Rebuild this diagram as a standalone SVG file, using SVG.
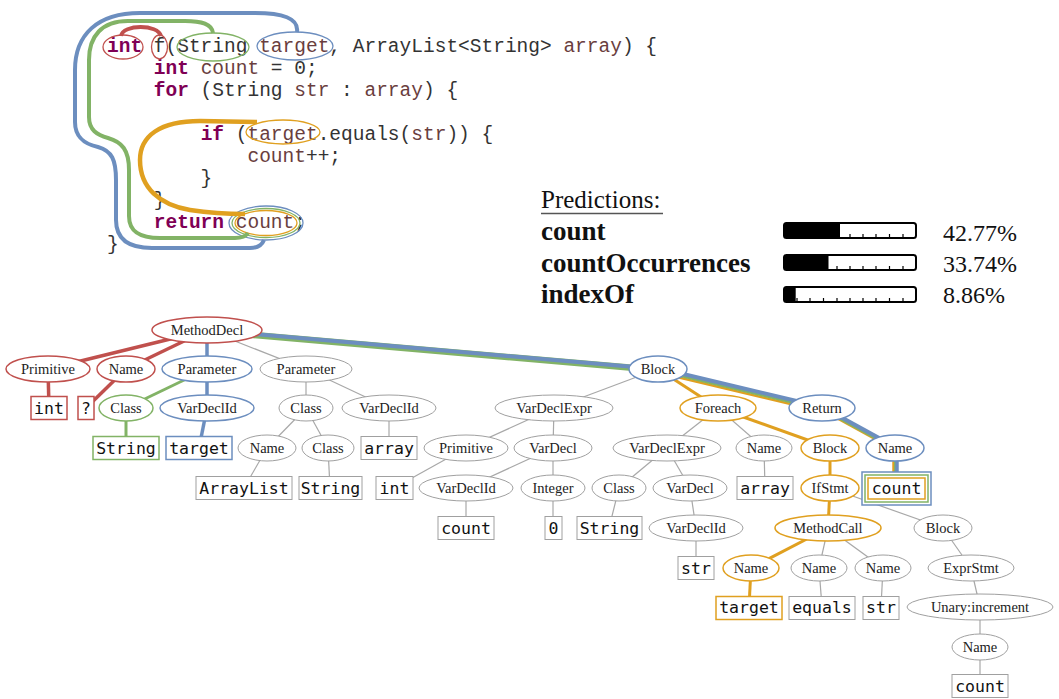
<svg xmlns="http://www.w3.org/2000/svg" width="1059" height="699" viewBox="0 0 1059 699">
<style>
.code{font-family:"Liberation Mono",monospace;font-size:19.5px;fill:#333;white-space:pre}
.kw{font-weight:bold;fill:#7f0055}
.id{fill:#6a3e3e}
.tok{fill:none;stroke-width:1.3}
.n ellipse{fill:#fff;stroke:#a0a0a0;stroke-width:1}
.n text{font-family:"Liberation Serif",serif;font-size:14.5px;fill:#222;text-anchor:middle}
.b rect{fill:#fff;stroke:#a0a0a0;stroke-width:1}
.b text{font-family:"DejaVu Sans Mono",monospace;font-size:16.5px;text-anchor:middle;fill:#111}
.r ellipse,.r rect{stroke:#c0504d;stroke-width:1.5}
.bl ellipse,.bl rect{stroke:#6c8ebf;stroke-width:1.5}
.g ellipse,.g rect{stroke:#82b366;stroke-width:1.5}
.o ellipse,.o rect{stroke:#e0a020;stroke-width:1.5}
.e{stroke:#a8a8a8;stroke-width:1.2;fill:none}
.er{stroke:#c0504d;stroke-width:3.5;fill:none}
.eb{stroke:#6c8ebf;stroke-width:3.5;fill:none}
.eg{stroke:#82b366;stroke-width:3;fill:none}
.eo{stroke:#e0a020;stroke-width:3;fill:none}
.pred{font-family:"Liberation Serif",serif;fill:#111}
</style>

<!-- code -->
<g id="code">
<text class="code" x="107" y="52" xml:space="preserve"><tspan class="kw">int</tspan> f(String <tspan class="id">target</tspan>, ArrayList&lt;String&gt; <tspan class="id">array</tspan>) {</text>
<text class="code" x="107" y="74" xml:space="preserve">    <tspan class="kw">int</tspan> <tspan class="id">count</tspan> = 0;</text>
<text class="code" x="107" y="96" xml:space="preserve">    <tspan class="kw">for</tspan> (String <tspan class="id">str</tspan> : <tspan class="id">array</tspan>) {</text>
<text class="code" x="107" y="140" xml:space="preserve">        <tspan class="kw">if</tspan> (<tspan class="id">target</tspan>.equals(<tspan class="id">str</tspan>)) {</text>
<text class="code" x="107" y="162" xml:space="preserve">            <tspan class="id">count</tspan>++;</text>
<text class="code" x="107" y="184" xml:space="preserve">        }</text>
<text class="code" x="107" y="206" xml:space="preserve">    }</text>
<text class="code" x="107" y="228" xml:space="preserve">    <tspan class="kw">return</tspan> <tspan class="id">count</tspan>;</text>
<text class="code" x="107" y="250" xml:space="preserve">}</text>
</g>

<g id="code-highlights">
<ellipse class="tok" cx="123" cy="47" rx="20" ry="12" stroke="#c0504d"/>
<ellipse class="tok" cx="159.5" cy="47" rx="8" ry="12" stroke="#c0504d"/>
<ellipse class="tok" cx="213" cy="47" rx="36" ry="14" stroke="#82b366"/>
<ellipse class="tok" cx="295" cy="46" rx="38" ry="14" stroke="#6c8ebf"/>
<ellipse class="tok" cx="283" cy="132" rx="37" ry="12" stroke="#e0a020"/>
<ellipse class="tok" cx="266" cy="223" rx="37" ry="17" stroke="#6c8ebf"/>
<ellipse class="tok" cx="266" cy="223" rx="34" ry="14.5" stroke="#82b366"/>
<ellipse class="tok" cx="266" cy="223" rx="31" ry="12.5" stroke="#e0a020"/>
<path d="M 121 36 C 123 24 158 24 161 36" fill="none" stroke="#c0504d" stroke-width="4"/>
<path d="M 297 32 C 299 18 282 13 255 13 L 140 13 C 97 13 75 35 75 70 L 75 122 C 75 138 85 144 98 147 C 112 151 116 160 116 180 L 116 220 C 116 240 130 248 152 248 L 250 248 C 258 248 262 245 264 240" fill="none" stroke="#6c8ebf" stroke-width="4"/>
<path d="M 213 33 C 212 24 202 21 185 21 L 128 21 C 102 21 89 36 89 60 L 89 117 C 89 130 97 135 108 138 C 122 142 129 150 129 170 L 129 216 C 129 232 140 238 160 238 L 235 238 C 242 238 246 236 248 233" fill="none" stroke="#82b366" stroke-width="4"/>
<path d="M 257 122 L 200 121 C 160 121 140 136 140 160 C 140 188 160 205 190 210 C 210 213 228 214 245 214" fill="none" stroke="#e0a020" stroke-width="4.5"/>
</g>

<!-- predictions -->
<g id="predictions">
<text class="pred" x="541" y="208" font-size="25">Predictions:</text>
<line x1="541" y1="213.5" x2="663" y2="213.5" stroke="#555" stroke-width="1.5"/>
<text class="pred" x="541" y="240" font-size="27" font-weight="bold">count</text>
<text class="pred" x="541" y="272" font-size="27" font-weight="bold">countOccurrences</text>
<text class="pred" x="541" y="303" font-size="27" font-weight="bold">indexOf</text>
<text class="pred" x="943" y="241" font-size="24">42.77%</text>
<text class="pred" x="943" y="272" font-size="24">33.74%</text>
<text class="pred" x="943" y="303" font-size="24">8.86%</text>
<g stroke="#000" stroke-width="1.2">
<path d="M 850 238 v-4 M 863 238 v-4 M 876 238 v-4 M 889.5 238 v-4 M 903 238 v-4"/>
<path d="M 837 270 v-4 M 850 270 v-4 M 863 270 v-4 M 876 270 v-4 M 889.5 270 v-4 M 903 270 v-4"/>
<path d="M 797 302 v-4 M 810 302 v-4 M 823.5 302 v-4 M 837 302 v-4 M 850 302 v-4 M 863 302 v-4 M 876 302 v-4 M 889.5 302 v-4 M 903 302 v-4"/>
</g>
<path d="M 786 223 H 840 V 238 H 786 Q 784 238 784 236 V 225 Q 784 223 786 223 Z" fill="#000"/>
<path d="M 786 255 H 828.5 V 270 H 786 Q 784 270 784 268 V 257 Q 784 255 786 255 Z" fill="#000"/>
<path d="M 786 287 H 795.7 V 302 H 786 Q 784 302 784 300 V 289 Q 784 287 786 287 Z" fill="#000"/>
<rect x="784" y="223" width="132" height="15" rx="2.5" fill="none" stroke="#000" stroke-width="2"/>
<rect x="784" y="255" width="132" height="15" rx="2.5" fill="none" stroke="#000" stroke-width="2"/>
<rect x="784" y="287" width="132" height="15" rx="2.5" fill="none" stroke="#000" stroke-width="2"/>
</g>

<!-- connectors -->
<g id="connectors">
<line class="e" x1="207" y1="330" x2="306" y2="369"/>
<line class="e" x1="306" y1="369" x2="306" y2="408"/>
<line class="e" x1="306" y1="369" x2="389" y2="408"/>
<line class="e" x1="306" y1="408" x2="267" y2="448"/>
<line class="e" x1="306" y1="408" x2="328" y2="448"/>
<line class="e" x1="267" y1="448" x2="244" y2="488"/>
<line class="e" x1="328" y1="448" x2="330" y2="488"/>
<line class="e" x1="389" y1="408" x2="389" y2="448"/>
<line class="e" x1="658" y1="369" x2="554" y2="408"/>
<line class="e" x1="554" y1="408" x2="466" y2="448"/>
<line class="e" x1="554" y1="408" x2="553" y2="448"/>
<line class="e" x1="466" y1="448" x2="394" y2="488"/>
<line class="e" x1="553" y1="448" x2="466" y2="488"/>
<line class="e" x1="553" y1="448" x2="553" y2="488"/>
<line class="e" x1="466" y1="488" x2="466" y2="528"/>
<line class="e" x1="553" y1="488" x2="553" y2="528"/>
<line class="e" x1="718" y1="408" x2="667" y2="448"/>
<line class="e" x1="718" y1="408" x2="764" y2="448"/>
<line class="e" x1="667" y1="448" x2="619" y2="488"/>
<line class="e" x1="667" y1="448" x2="690" y2="488"/>
<line class="e" x1="619" y1="488" x2="609" y2="528"/>
<line class="e" x1="690" y1="488" x2="696" y2="528"/>
<line class="e" x1="696" y1="528" x2="696" y2="568"/>
<line class="e" x1="764" y1="448" x2="765" y2="488"/>
<line class="e" x1="830" y1="488" x2="943" y2="528"/>
<line class="e" x1="828" y1="528" x2="819" y2="568"/>
<line class="e" x1="828" y1="528" x2="883" y2="568"/>
<line class="e" x1="819" y1="568" x2="822" y2="607"/>
<line class="e" x1="883" y1="568" x2="881" y2="607"/>
<line class="e" x1="943" y1="528" x2="971" y2="568"/>
<line class="e" x1="971" y1="568" x2="980" y2="607"/>
<line class="e" x1="980" y1="607" x2="980" y2="647"/>
<line class="e" x1="980" y1="647" x2="980" y2="686"/>
<!-- red -->
<line class="er" x1="207" y1="330" x2="48" y2="369"/>
<line class="er" x1="207" y1="330" x2="126" y2="369"/>
<line class="er" x1="48" y1="369" x2="49" y2="408"/>
<line class="er" x1="126" y1="369" x2="86" y2="408"/>
<!-- blue / green -->
<line class="eb" x1="207" y1="330" x2="207" y2="369"/>
<line class="eg" x1="207" y1="369" x2="126" y2="408"/>
<line class="eb" x1="207" y1="369" x2="207" y2="408"/>
<line class="eg" x1="126" y1="408" x2="126" y2="448"/>
<line class="eb" x1="207" y1="408" x2="199" y2="448"/>
<line x1="207" y1="331" x2="658" y2="370" stroke="#82b366" stroke-width="6.5"/>
<line x1="207" y1="330" x2="658" y2="369" stroke="#6c8ebf" stroke-width="4"/>
<line x1="658" y1="372.5" x2="822" y2="411.5" stroke="#e0a020" stroke-width="2.5"/>
<line x1="658" y1="370.5" x2="822" y2="409.5" stroke="#82b366" stroke-width="2.5"/>
<line x1="658" y1="368" x2="822" y2="407" stroke="#6c8ebf" stroke-width="4"/>
<line x1="822" y1="410" x2="895" y2="450" stroke="#e0a020" stroke-width="2.5"/>
<line x1="822" y1="409" x2="895" y2="449" stroke="#82b366" stroke-width="2.5"/>
<line x1="822.5" y1="407" x2="895.5" y2="447" stroke="#6c8ebf" stroke-width="4"/>
<line x1="893.5" y1="448" x2="893.5" y2="478" stroke="#e0a020" stroke-width="2.5"/>
<line x1="895" y1="448" x2="895" y2="478" stroke="#82b366" stroke-width="2"/>
<line x1="897" y1="448" x2="897" y2="478" stroke="#6c8ebf" stroke-width="3.5"/>
<!-- orange -->
<line class="eo" x1="658" y1="369" x2="718" y2="408"/>
<line class="eo" x1="718" y1="408" x2="830" y2="448"/>
<line class="eo" x1="830" y1="448" x2="830" y2="488"/>
<line class="eo" x1="830" y1="488" x2="828" y2="528"/>
<line class="eo" x1="828" y1="528" x2="751" y2="568"/>
<line class="eo" x1="751" y1="568" x2="749" y2="607"/>
</g>

<!-- nodes -->
<g id="n-methoddecl" class="n r"><ellipse cx="207" cy="330" rx="55" ry="13"/><text x="207" y="335">MethodDecl</text></g>
<g id="n-primitive1" class="n r"><ellipse cx="48" cy="369" rx="42" ry="13"/><text x="48" y="374">Primitive</text></g>
<g id="n-name1" class="n r"><ellipse cx="126" cy="369" rx="29" ry="13"/><text x="126" y="374">Name</text></g>
<g id="n-parameter1" class="n bl"><ellipse cx="207" cy="369" rx="45" ry="13"/><text x="207" y="374">Parameter</text></g>
<g id="n-parameter2" class="n"><ellipse cx="306" cy="369" rx="46" ry="13"/><text x="306" y="374">Parameter</text></g>
<g id="n-block1" class="n bl"><ellipse cx="658" cy="369" rx="29" ry="13"/><text x="658" y="374">Block</text></g>
<g id="b-int1" class="b r"><rect x="31" y="396.5" width="36" height="23"/><text x="49" y="414">int</text></g>
<g id="b-q" class="b r"><rect x="78" y="396.5" width="16" height="23"/><text x="86" y="414">?</text></g>
<g id="n-class1" class="n g"><ellipse cx="126" cy="408" rx="27" ry="13"/><text x="126" y="413">Class</text></g>
<g id="n-vardeclid1" class="n bl"><ellipse cx="207" cy="408" rx="47" ry="13"/><text x="207" y="413">VarDeclId</text></g>
<g id="n-class2" class="n"><ellipse cx="306" cy="408" rx="27" ry="13"/><text x="306" y="413">Class</text></g>
<g id="n-vardeclid2" class="n"><ellipse cx="389" cy="408" rx="47" ry="13"/><text x="389" y="413">VarDeclId</text></g>
<g id="n-vardeclexpr1" class="n"><ellipse cx="554" cy="408" rx="59" ry="13"/><text x="554" y="413">VarDeclExpr</text></g>
<g id="n-foreach" class="n o"><ellipse cx="718" cy="408" rx="38" ry="13"/><text x="718" y="413">Foreach</text></g>
<g id="n-return" class="n bl"><ellipse cx="822" cy="408" rx="33" ry="13"/><text x="822" y="413">Return</text></g>
<g id="b-string1" class="b g"><rect x="93" y="436.5" width="66" height="23"/><text x="126" y="454">String</text></g>
<g id="b-target1" class="b bl"><rect x="166" y="436.5" width="66" height="23"/><text x="199" y="454">target</text></g>
<g id="n-name2" class="n"><ellipse cx="267" cy="448" rx="29" ry="13"/><text x="267" y="453">Name</text></g>
<g id="n-class3" class="n"><ellipse cx="328" cy="448" rx="26" ry="13"/><text x="328" y="453">Class</text></g>
<g id="b-array1" class="b"><rect x="361" y="436.5" width="56" height="23"/><text x="389" y="454">array</text></g>
<g id="n-primitive2" class="n"><ellipse cx="466" cy="448" rx="42" ry="13"/><text x="466" y="453">Primitive</text></g>
<g id="n-vardecl1" class="n"><ellipse cx="553" cy="448" rx="39" ry="13"/><text x="553" y="453">VarDecl</text></g>
<g id="n-vardeclexpr2" class="n"><ellipse cx="667" cy="448" rx="54" ry="13"/><text x="667" y="453">VarDeclExpr</text></g>
<g id="n-name3" class="n"><ellipse cx="764" cy="448" rx="28" ry="13"/><text x="764" y="453">Name</text></g>
<g id="n-block2" class="n o"><ellipse cx="830" cy="448" rx="29" ry="13"/><text x="830" y="453">Block</text></g>
<g id="n-name4" class="n bl"><ellipse cx="895" cy="448" rx="29" ry="13"/><text x="895" y="453">Name</text></g>
<g id="b-arraylist" class="b"><rect x="196" y="476.5" width="96" height="23"/><text x="244" y="494">ArrayList</text></g>
<g id="b-string2" class="b"><rect x="299" y="476.5" width="63" height="23"/><text x="330.5" y="494">String</text></g>
<g id="b-int2" class="b"><rect x="376" y="476.5" width="37" height="23"/><text x="394.5" y="494">int</text></g>
<g id="n-vardeclid3" class="n"><ellipse cx="466" cy="488" rx="47" ry="13"/><text x="466" y="493">VarDeclId</text></g>
<g id="n-integer" class="n"><ellipse cx="553" cy="488" rx="32" ry="13"/><text x="553" y="493">Integer</text></g>
<g id="n-class4" class="n"><ellipse cx="619" cy="488" rx="27" ry="13"/><text x="619" y="493">Class</text></g>
<g id="n-vardecl2" class="n"><ellipse cx="690" cy="488" rx="37" ry="13"/><text x="690" y="493">VarDecl</text></g>
<g id="b-array2" class="b"><rect x="737" y="476.5" width="56" height="23"/><text x="765" y="494">array</text></g>
<g id="n-ifstmt" class="n o"><ellipse cx="830" cy="488" rx="29" ry="13"/><text x="830" y="493">IfStmt</text></g>
<g id="b-count-return" class="b"><rect x="862" y="472" width="69" height="33" style="stroke:#6c8ebf;stroke-width:1.5"/><rect x="865" y="475" width="63" height="27" style="fill:none;stroke:#82b366;stroke-width:1.5"/><rect x="868" y="478" width="57" height="21" style="fill:none;stroke:#e0a020;stroke-width:1.5"/><text x="896.5" y="494">count</text></g>
<g id="b-count1" class="b"><rect x="438" y="516.5" width="56" height="23"/><text x="466" y="534">count</text></g>
<g id="b-zero" class="b"><rect x="545" y="516.5" width="17" height="23"/><text x="553.5" y="534">0</text></g>
<g id="b-string3" class="b"><rect x="577" y="516.5" width="65" height="23"/><text x="609.5" y="534">String</text></g>
<g id="n-vardeclid4" class="n"><ellipse cx="696" cy="528" rx="47" ry="13"/><text x="696" y="533">VarDeclId</text></g>
<g id="n-methodcall" class="n o"><ellipse cx="828" cy="528" rx="53" ry="13"/><text x="828" y="533">MethodCall</text></g>
<g id="n-block3" class="n"><ellipse cx="943" cy="528" rx="29" ry="13"/><text x="943" y="533">Block</text></g>
<g id="b-str1" class="b"><rect x="678" y="556.5" width="36" height="23"/><text x="696" y="574">str</text></g>
<g id="n-name5" class="n o"><ellipse cx="751" cy="568" rx="28" ry="13"/><text x="751" y="573">Name</text></g>
<g id="n-name6" class="n"><ellipse cx="819" cy="568" rx="28" ry="13"/><text x="819" y="573">Name</text></g>
<g id="n-name7" class="n"><ellipse cx="883" cy="568" rx="28" ry="13"/><text x="883" y="573">Name</text></g>
<g id="n-exprstmt" class="n"><ellipse cx="971" cy="568" rx="43" ry="13"/><text x="971" y="573">ExprStmt</text></g>
<g id="b-target2" class="b o"><rect x="716" y="596.5" width="66" height="23"/><text x="749" y="613">target</text></g>
<g id="b-equals" class="b"><rect x="789" y="596.5" width="66" height="23"/><text x="822" y="613">equals</text></g>
<g id="b-str2" class="b"><rect x="863" y="596.5" width="36" height="23"/><text x="881" y="613">str</text></g>
<g id="n-unary" class="n"><ellipse cx="980" cy="607" rx="73" ry="13"/><text x="980" y="612">Unary:increment</text></g>
<g id="n-name8" class="n"><ellipse cx="980" cy="647" rx="28" ry="13"/><text x="980" y="652">Name</text></g>
<g id="b-count2" class="b"><rect x="952" y="674.5" width="56" height="23"/><text x="980" y="692">count</text></g>
</svg>
